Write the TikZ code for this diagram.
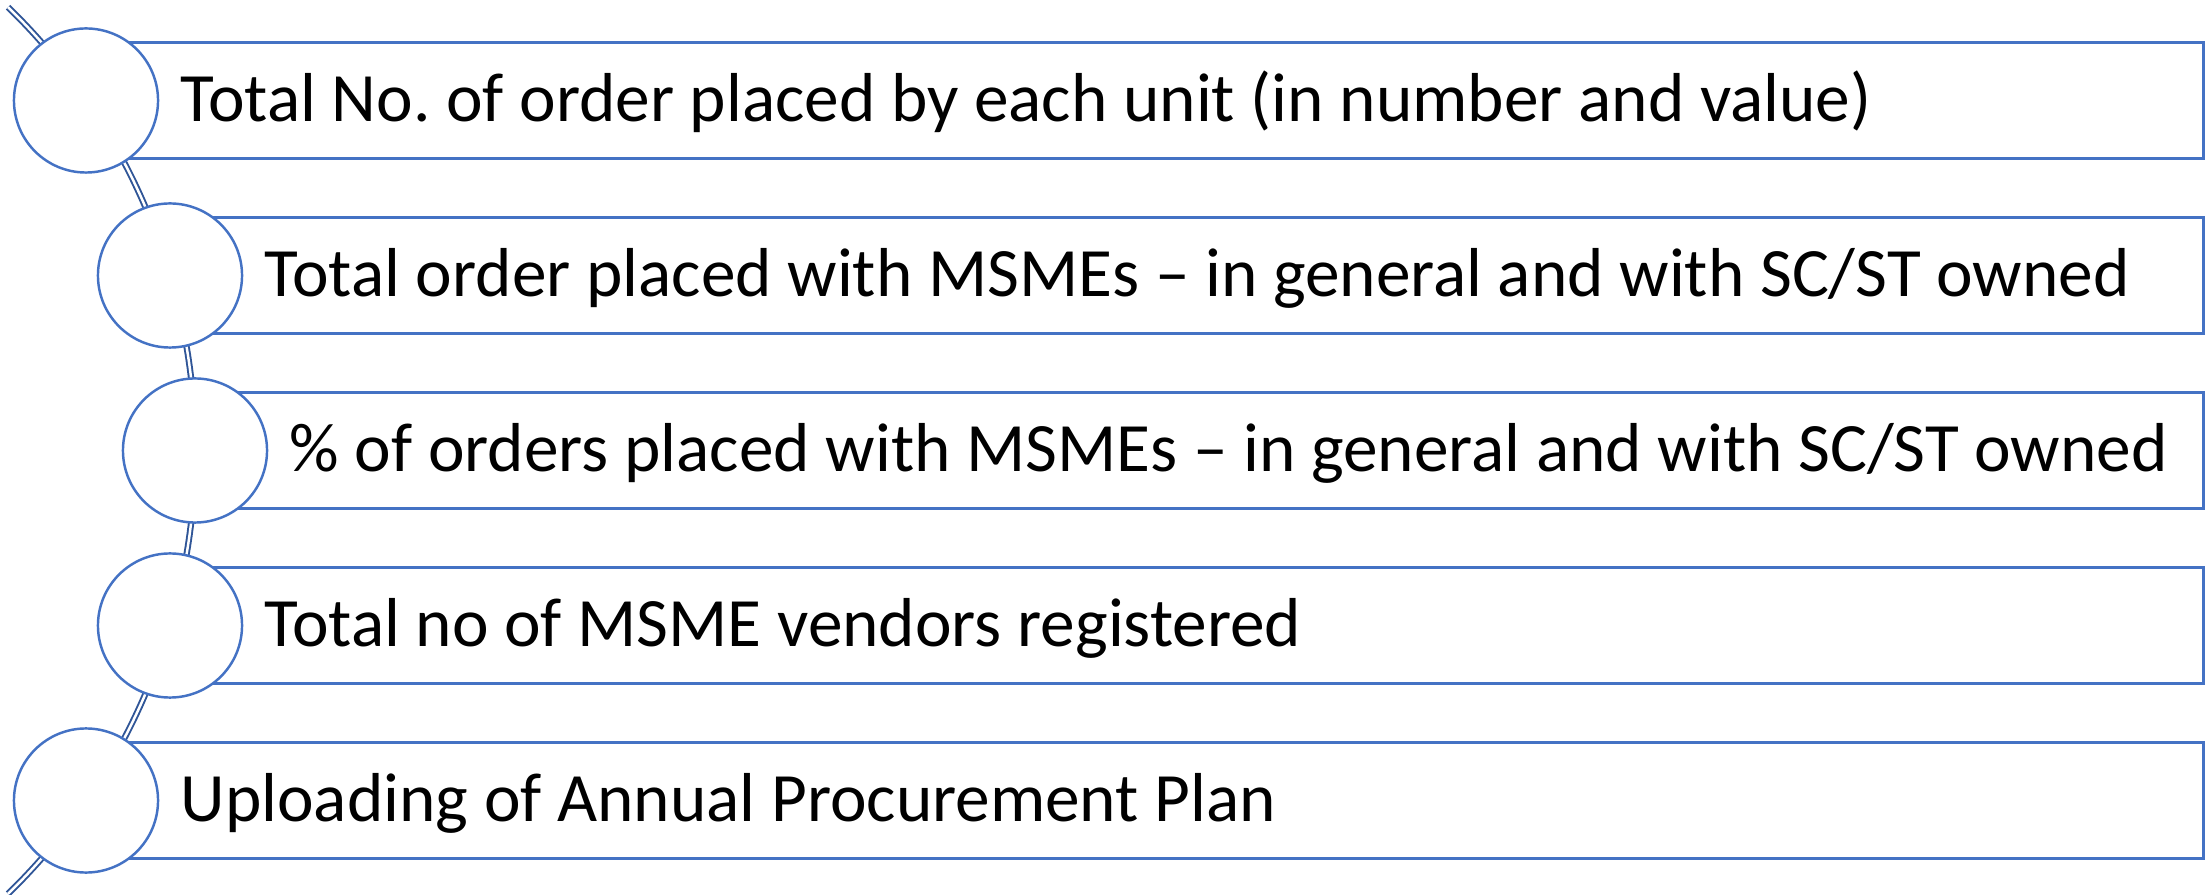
\documentclass[tikz,border=0pt]{standalone}
\usepackage{fontspec}
\usetikzlibrary{calc}
\setmainfont{Carlito}
\frenchspacing
\definecolor{accent}{HTML}{4472C4}
\definecolor{spinecol}{HTML}{2F5597}
\begin{document}
\begin{tikzpicture}[x=0.01cm,y=0.01cm,
  bar/.style={draw=accent, line width=0.7pt, fill=white, rectangle, inner sep=0pt, minimum height=1.16cm, anchor=west},
  dot/.style={draw=accent, line width=0.7pt, fill=white, circle, inner sep=0pt, minimum size=1.44cm},
  label text/.style={anchor=base west, inner sep=0pt, font=\fontsize{19.7pt}{23pt}\selectfont, text=black},
  spine/.style={draw=spinecol, line width=0.55pt, double=white, double distance=0.7pt}
]
\useasboundingbox (0,0) rectangle (2207,-895);
% spine arc
\coordinate (arcC) at (-423,-450.5);
\coordinate (arcTop) at ($(arcC)+(45.8:6.18cm)$);
\draw[spine] (arcTop) arc[start angle=45.8, end angle=-45.8, radius=6.18cm];
% bars
\node[bar, minimum width=21.15cm] (b1) at (86,-100.5) {};
\node[bar, minimum width=20.31cm] (b2) at (170,-275.5) {};
\node[bar, minimum width=20.06cm] (b3) at (195,-450.5) {};
\node[bar, minimum width=20.31cm] (b4) at (170,-625.5) {};
\node[bar, minimum width=21.15cm] (b5) at (86,-800.5) {};
% circles
\node[dot] (c1) at (86,-100.5) {};
\node[dot] (c2) at (170,-275.5) {};
\node[dot] (c3) at (195,-450.5) {};
\node[dot] (c4) at (170,-625.5) {};
\node[dot] (c5) at (86,-800.5) {};
% texts
\node[label text] (t1) at (180,-121.5) {Total No. of order placed by each unit (in number and value)};
\node[label text] (t2) at (264,-296.5) {Total order placed with MSMEs -- in general and with SC/ST owned};
\node[label text] (t3) at (289,-471.5) {\% of orders placed with MSMEs -- in general and with SC/ST owned};
\node[label text] (t4) at (264,-646.5) {Total no of MSME vendors registered};
\node[label text] (t5) at (180,-821.5) {Uploading of Annual Procurement Plan};
\end{tikzpicture}
\end{document}
